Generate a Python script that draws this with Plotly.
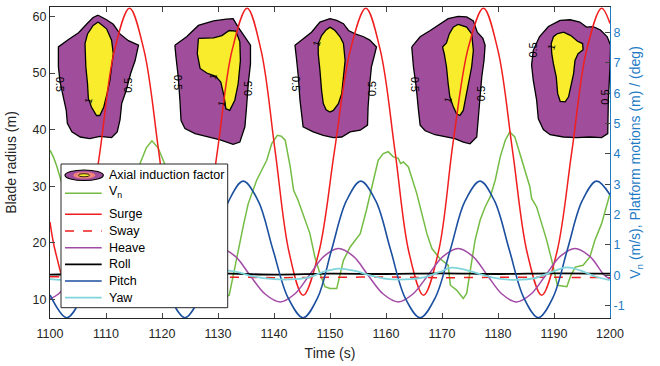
import plotly.graph_objects as go

# ---------------- data ----------------
# Axial induction factor contour outlines (time s, blade radius m)
outer_t = [
    [1108.6, 1110.1, 1111.3, 1112.5, 1114.0, 1115.8, 1115.2, 1114.4, 1113.6, 1112.8, 1112.5, 1112.0, 1111.0, 1108.9, 1107.1, 1105.4, 1103.9, 1103.1, 1102.9, 1102.4, 1101.8, 1101.5, 1101.5, 1103.3, 1105.1, 1106.6, 1107.7],
    [1122.3, 1124.4, 1126.5, 1129.2, 1131.5, 1132.7, 1133.6, 1134.8, 1135.8, 1135.8, 1135.4, 1135.1, 1134.8, 1133.9, 1132.7, 1130.4, 1128.0, 1125.9, 1124.1, 1123.4, 1123.2, 1122.9, 1122.5],
    [1150.0, 1148.2, 1146.7, 1145.2, 1143.75, 1144.05, 1144.35, 1144.64, 1144.9, 1145.2, 1147.0, 1148.8, 1150.6, 1152.1, 1153.6, 1155.4, 1156.7, 1156.8, 1157.1, 1157.4, 1158.0, 1158.3, 1157.1, 1156.0, 1154.5, 1153.3, 1152.4, 1151.2],
    [1164.6, 1166.1, 1167.9, 1169.6, 1171.1, 1172.9, 1174.4, 1175.6, 1176.3, 1177.3, 1177.7, 1177.5, 1177.1, 1176.8, 1176.5, 1176.2, 1175.0, 1173.8, 1172.3, 1170.5, 1168.75, 1167.0, 1166.1, 1165.8, 1165.4, 1164.9],
    [1191.1, 1192.9, 1194.6, 1195.8, 1197.0, 1198.3, 1199.5, 1200.1, 1200.0, 1199.7, 1199.6, 1198.5, 1196.4, 1194.0, 1191.7, 1189.3, 1188.1, 1187.2, 1186.9, 1186.3, 1186.0, 1186.3, 1187.4, 1189.0],
]
outer_r = [
    [60.2, 59.4, 58.6, 56.9, 55.7, 54.9, 52.2, 49.9, 46.9, 44.6, 41.7, 39.6, 38.6, 38.8, 38.4, 38.7, 39.6, 41.1, 43.4, 45.8, 48.4, 51.1, 54.6, 55.9, 57.1, 58.7, 59.8],
    [54.9, 56.4, 58.4, 59.2, 59.5, 59.6, 58.1, 56.4, 54.9, 51.6, 48.1, 44.0, 40.5, 37.8, 37.4, 38.2, 38.8, 39.3, 40.2, 41.6, 45.2, 49.3, 52.8],
    [59.6, 59.0, 57.2, 56.1, 54.9, 52.2, 49.3, 45.2, 42.8, 40.5, 39.6, 39.0, 38.6, 38.7, 39.6, 39.9, 40.8, 44.0, 48.1, 51.1, 53.4, 54.6, 55.8, 56.4, 56.9, 57.5, 58.7, 59.3],
    [54.6, 56.4, 57.5, 58.7, 59.6, 60.0, 59.9, 59.2, 57.2, 56.1, 54.9, 52.2, 49.3, 45.8, 42.2, 38.7, 37.5, 37.8, 38.4, 38.7, 39.1, 39.8, 40.8, 43.4, 47.5, 51.1],
    [59.3, 59.4, 59.0, 58.1, 58.2, 57.6, 56.4, 54.9, 51.1, 45.2, 39.3, 38.6, 38.7, 38.6, 38.7, 39.1, 40.0, 41.9, 45.2, 48.7, 51.4, 54.0, 56.4, 58.2],
]
inner_t = [
    [1108.6, 1110.1, 1111.0, 1111.3, 1111.0, 1110.7, 1110.2, 1109.6, 1108.9, 1108.3, 1107.4, 1106.85, 1106.7, 1106.4, 1106.25, 1106.7, 1107.7],
    [1126.5, 1129.2, 1130.7, 1132.0, 1133.2, 1133.9, 1134.0, 1133.6, 1133.0, 1132.1, 1131.4, 1131.1, 1130.5, 1129.6, 1128.0, 1126.8, 1126.3],
    [1150.0, 1150.9, 1151.8, 1152.4, 1152.7, 1152.4, 1152.1, 1151.5, 1150.6, 1150.0, 1149.3, 1148.8, 1148.5, 1148.2, 1147.9, 1147.9, 1148.5, 1149.3],
    [1172.9, 1174.4, 1175.3, 1175.6, 1175.3, 1174.7, 1174.1, 1173.8, 1173.2, 1172.6, 1172.0, 1171.4, 1171.1, 1170.8, 1170.4, 1170.1, 1170.8, 1171.3, 1172.0],
    [1190.5, 1191.7, 1193.0, 1194.2, 1195.1, 1195.2, 1194.3, 1193.75, 1193.5, 1193.0, 1192.6, 1192.0, 1191.1, 1190.65, 1190.4, 1189.9, 1189.6, 1189.5, 1189.9],
]
inner_r = [
    [59.0, 57.8, 55.8, 53.4, 51.1, 48.7, 46.4, 44.0, 42.5, 42.5, 44.0, 45.5, 48.1, 51.1, 55.2, 56.9, 58.4],
    [56.1, 56.2, 56.6, 57.5, 57.4, 55.5, 52.2, 48.1, 45.2, 43.4, 43.7, 45.8, 48.4, 49.4, 50.0, 50.8, 53.4],
    [58.1, 57.5, 56.4, 55.2, 52.2, 48.7, 46.4, 44.6, 43.4, 43.1, 43.5, 44.6, 46.9, 50.5, 53.4, 55.2, 56.6, 57.6],
    [58.6, 58.1, 56.9, 54.0, 51.1, 48.1, 45.2, 43.4, 42.5, 42.8, 44.1, 45.8, 48.1, 51.1, 53.4, 54.6, 55.3, 56.9, 58.1],
    [56.9, 57.2, 56.6, 55.6, 55.2, 54.1, 53.4, 52.2, 49.9, 47.5, 45.8, 44.9, 45.0, 46.4, 49.3, 51.6, 53.4, 55.2, 56.4],
]
# contour labels: (time, radius, text angle)
label_05_t = [1101.8, 1114.0, 1122.9, 1135.4, 1144.05, 1157.4, 1165.2, 1177.1, 1186.3, 1199.1]
label_05_r = [48.1, 47.8, 48.4, 47.2, 48.1, 47.2, 48.1, 46.4, 54.0, 45.8]
label_05_a = [90, -90, 90, -90, 90, -90, 90, -90, -90, -90]
label_1_t = [1106.8, 1129.2, 1130.6, 1147.6, 1171.1, 1189.6]
label_1_r = [45.2, 49.3, 44.7, 55.2, 45.3, 54.6]

# V_n (m/s)
vn_t = [1100.0, 1100.6, 1101.2, 1102.0, 1103.0, 1104.0, 1105.0, 1106.5, 1108.0, 1109.0, 1109.8, 1110.8, 1111.6, 1112.4, 1113.2, 1114.2, 1115.2, 1116.1, 1117.2, 1118.2, 1119.3, 1120.5, 1121.5, 1122.5, 1123.5, 1124.5, 1125.5, 1126.5, 1128.0, 1129.5, 1130.5, 1131.4, 1132.0, 1133.0, 1133.9, 1134.6, 1135.4, 1136.2, 1136.9, 1137.8, 1138.7, 1139.6, 1140.6, 1141.3, 1142.0, 1142.9, 1143.5, 1144.3, 1145.5, 1146.4, 1147.3, 1148.2, 1149.1, 1150.0, 1151.2, 1152.4, 1153.6, 1154.5, 1155.4, 1156.5, 1157.7, 1158.6, 1159.5, 1160.4, 1161.3, 1162.2, 1162.6, 1163.1, 1164.0, 1164.6, 1165.5, 1166.4, 1167.3, 1168.2, 1169.6, 1171.1, 1171.5, 1172.6, 1173.8, 1174.4, 1175.0, 1175.9, 1176.8, 1177.7, 1178.6, 1179.5, 1180.4, 1181.3, 1182.1, 1183.0, 1183.9, 1184.8, 1185.7, 1186.0, 1186.9, 1187.8, 1188.7, 1189.6, 1190.4, 1190.6, 1192.3, 1192.9, 1193.8, 1195.2, 1196.4, 1197.3, 1198.5, 1200.0]
vn_v = [4.12, 3.9, 3.6, 3.1, 2.2, 1.3, 0.7, 0.4, 0.3, 0.2, -0.4, -0.7, -0.5, 0.4, 1.4, 2.4, 3.1, 3.69, 4.2, 4.43, 4.2, 3.66, 3.0, 2.4, 1.8, 1.2, 0.7, 0.45, 0.35, 0.2, -0.3, -0.72, -0.66, 0.27, 1.15, 1.7, 2.36, 2.8, 3.13, 3.46, 3.79, 4.34, 4.61, 4.58, 4.45, 3.57, 2.8, 2.47, 1.81, 1.38, 0.6, 0.06, -0.38, -0.44, -0.44, 0.49, 0.93, 1.15, 1.37, 2.14, 3.13, 3.79, 4.01, 4.07, 3.9, 3.85, 3.68, 3.73, 3.57, 3.24, 2.69, 2.03, 1.37, 0.88, 0.55, 0.33, -0.33, -0.49, -0.77, -0.6, 0.16, 1.15, 1.81, 2.25, 2.58, 3.13, 3.9, 4.45, 4.72, 4.56, 4.01, 3.46, 2.91, 2.53, 2.25, 1.7, 1.15, 0.49, -0.22, -0.33, -0.38, -0.05, 0.27, 0.33, 0.6, 1.15, 1.7, 2.69]

# Surge (m)
surge_t = [1100.0, 1101.0, 1103.6, 1106.2, 1108.9, 1111.5, 1114.2, 1116.8, 1119.4, 1121.9, 1124.5, 1127.2, 1129.9, 1132.5, 1135.2, 1137.7, 1140.2, 1142.7, 1145.2, 1148.0, 1150.8, 1153.6, 1156.4, 1159.0, 1161.6, 1164.1, 1166.7, 1169.4, 1172.0, 1174.7, 1177.4, 1180.0, 1182.6, 1185.2, 1187.8, 1190.5, 1193.2, 1195.8, 1198.5, 1200.0]
surge_v = [1.75, 0.75, -0.66, 0.75, 4.05, 7.4, 8.8, 7.4, 4.1, 0.75, -0.66, 0.75, 4.1, 7.4, 8.8, 7.4, 4.1, 0.75, -0.66, 0.75, 4.1, 7.4, 8.8, 7.4, 4.1, 0.75, -0.66, 0.8, 4.4, 7.5, 8.8, 7.4, 4.1, 0.75, -0.66, 0.75, 4.1, 7.4, 8.8, 8.3]

# Sway (m)
sway_t = [1100, 1110, 1120, 1130, 1140, 1150, 1160, 1170, 1180, 1190, 1200]
sway_v = [-0.05, -0.06, -0.07, -0.06, -0.08, -0.07, -0.06, -0.08, -0.07, -0.07, -0.08]

# Heave (m)
heave_t = [1100.0, 1101.5, 1104.2, 1106.8, 1109.3, 1112.0, 1114.6, 1117.3, 1120.0, 1122.6, 1125.2, 1127.8, 1130.4, 1133.1, 1135.7, 1138.4, 1141.1, 1143.7, 1146.3, 1148.9, 1151.5, 1154.2, 1156.8, 1159.5, 1162.2, 1164.8, 1167.5, 1170.2, 1172.9, 1175.5, 1178.1, 1180.7, 1183.3, 1185.9, 1188.5, 1191.1, 1193.75, 1196.4, 1199.0, 1200.0]
heave_v = [-0.78, -0.62, 0.0, 0.62, 0.88, 0.62, 0.0, -0.62, -0.88, -0.62, 0.0, 0.62, 0.88, 0.62, 0.0, -0.62, -0.88, -0.62, 0.0, 0.62, 0.88, 0.62, 0.0, -0.62, -0.88, -0.62, 0.0, 0.62, 0.88, 0.62, 0.0, -0.62, -0.88, -0.62, 0.0, 0.62, 0.88, 0.62, 0.0, -0.12]

# Roll (deg)
roll_t = [1100, 1110, 1120, 1130, 1140, 1150, 1160, 1170, 1180, 1190, 1200]
roll_v = [0.02, 0.04, 0.03, 0.06, 0.02, 0.05, 0.04, 0.06, 0.04, 0.06, 0.05]

# Pitch (deg)
pitch_t = [1100.0, 1103.0, 1105.6, 1108.3, 1111.0, 1113.7, 1116.3, 1118.9, 1121.5, 1124.1, 1126.7, 1129.3, 1131.9, 1134.5, 1137.2, 1139.8, 1142.5, 1145.2, 1147.8, 1150.3, 1152.9, 1155.5, 1158.2, 1160.8, 1163.4, 1166.1, 1168.8, 1171.5, 1174.1, 1176.8, 1179.4, 1182.0, 1184.6, 1187.2, 1189.8, 1192.4, 1195.0, 1197.6, 1200.0]
pitch_v = [-0.65, -1.4, -0.75, 0.85, 2.44, 3.1, 2.44, 0.85, -0.74, -1.4, -0.74, 0.85, 2.44, 3.1, 2.44, 0.85, -0.74, -1.4, -0.74, 0.85, 2.44, 3.1, 2.44, 0.85, -0.74, -1.4, -0.74, 0.85, 2.44, 3.1, 2.44, 0.85, -0.74, -1.4, -0.74, 0.85, 2.44, 3.1, 2.65]

# Yaw (deg)
yaw_t = [1100, 1102, 1105, 1108, 1110.5, 1113, 1116, 1119, 1122, 1125, 1128, 1131, 1133.5, 1136.5, 1140, 1143, 1146, 1149, 1151.5, 1154.5, 1157.5, 1160.5, 1163.5, 1166.5, 1169.5, 1171.7, 1174.5, 1177.5, 1180.5, 1183.5, 1186.5, 1189.5, 1192.3, 1194.8, 1197.5, 1200]
yaw_v = [-0.13, -0.15, -0.1, 0.08, 0.18, 0.1, -0.06, -0.13, -0.14, -0.1, 0.05, 0.17, 0.1, -0.05, -0.13, -0.14, -0.08, 0.12, 0.22, 0.14, -0.02, -0.13, -0.14, -0.08, 0.1, 0.25, 0.16, 0.0, -0.12, -0.15, -0.1, 0.1, 0.26, 0.15, -0.05, -0.16]

x_ticks = [1100, 1110, 1120, 1130, 1140, 1150, 1160, 1170, 1180, 1190, 1200]
y_left_ticks = [10, 20, 30, 40, 50, 60]
y_right_ticks = [-1, 0, 1, 2, 3, 4, 5, 6, 7, 8]
y_right_labels = ["-1", "0", "1", "2", "3", "4", "5", "6", "7", "8"]

# ---------------- styles ----------------
FONT = "Liberation Sans, Arial, sans-serif"
AX = "#262626"
BLUE_AX = "#1f7cc4"
PURPLE = "#a04e9c"
YELLOW = "#f8ec2c"
SALMON = "#f0857a"

W, H = 660, 366
ML, MR, MT, MB = 50, 50, 7, 48
PW, PH = W - ML - MR, H - MT - MB


def px(xp):
    return (xp - ML) / PW


def py(yp):
    return (H - MB - yp) / PH


def join(polys):
    out = []
    for p in polys:
        out += list(p) + [p[0], None]
    return out


fig = go.Figure()
fig.add_trace(go.Scatter(x=join(outer_t), y=join(outer_r), mode="lines", fill="toself",
                         fillcolor=PURPLE, line=dict(color="black", width=1.3),
                         name="Axial induction factor", yaxis="y"))
fig.add_trace(go.Scatter(x=join(inner_t), y=join(inner_r), mode="lines", fill="toself",
                         fillcolor=YELLOW, line=dict(color="black", width=1.3),
                         name="Axial induction factor (1)", yaxis="y"))

series = [
    ("V<sub>n</sub>", vn_t, vn_v, "#74bc44", "solid", "linear", 1.5),
    ("Surge", surge_t, surge_v, "#f01e1e", "solid", "spline", 1.5),
    ("Sway", sway_t, sway_v, "#f01e1e", "dash", "spline", 1.5),
    ("Heave", heave_t, heave_v, "#a24ba6", "solid", "spline", 1.5),
    ("Roll", roll_t, roll_v, "#000000", "solid", "spline", 1.8),
    ("Pitch", pitch_t, pitch_v, "#1b4f9f", "solid", "spline", 1.6),
    ("Yaw", yaw_t, yaw_v, "#80d4dc", "solid", "spline", 1.8),
]
for name, t, v, c, dash, shape, w in series:
    fig.add_trace(go.Scatter(x=t, y=v, mode="lines", name=name, yaxis="y2",
                             line=dict(color=c, width=w, dash=dash, shape=shape)))

annotations = []
for t, r, a in zip(label_05_t, label_05_r, label_05_a):
    annotations.append(dict(x=t, y=r, xref="x", yref="y", text="0.5", showarrow=False,
                            textangle=a, font=dict(family=FONT, size=11, color="black")))
for t, r in zip(label_1_t, label_1_r):
    annotations.append(dict(x=t, y=r, xref="x", yref="y", text="1", showarrow=False,
                            textangle=-75, font=dict(family=FONT, size=10, color="black")))

# ---------- legend (drawn as a box with line samples and text) ----------
shapes = []
shapes.append(dict(type="rect", xref="paper", yref="paper", x0=px(61), x1=px(227.7),
                   y0=py(307.7), y1=py(164), fillcolor="white",
                   line=dict(color=AX, width=1), layer="above"))
# contour icon: concentric ellipses
shapes.append(dict(type="circle", xref="paper", yref="paper", x0=px(65), x1=px(103.3),
                   y0=py(180.5), y1=py(170), fillcolor=PURPLE,
                   line=dict(color="black", width=1.2), layer="above"))
shapes.append(dict(type="circle", xref="paper", yref="paper", x0=px(73.5), x1=px(95),
                   y0=py(178.3), y1=py(172.2), fillcolor=SALMON,
                   line=dict(color=SALMON, width=0.5), layer="above"))
shapes.append(dict(type="circle", xref="paper", yref="paper", x0=px(78.5), x1=px(89.5),
                   y0=py(176.8), y1=py(173.7), fillcolor=YELLOW,
                   line=dict(color="black", width=0.8), layer="above"))
legend_rows_y = [193.3, 214.3, 231.0, 247.7, 264.3, 281.0, 297.7]
for (name, t, v, c, dash, shape, w), yy in zip(series, legend_rows_y):
    shapes.append(dict(type="line", xref="paper", yref="paper", x0=px(65), x1=px(101.7),
                       y0=py(yy), y1=py(yy), line=dict(color=c, width=w, dash=dash),
                       layer="above"))
legend_text_y = [175.0, 192.5, 214.3, 231.0, 247.7, 264.3, 281.0, 297.7]
legend_names = ["Axial induction factor"] + [s[0] for s in series]
for name, yy in zip(legend_names, legend_text_y):
    annotations.append(dict(x=px(106.5), y=py(yy), xref="paper", yref="paper", text=name,
                            showarrow=False, xanchor="left", yanchor="middle",
                            font=dict(family=FONT, size=12.5, color="black")))

fig.update_layout(
    width=W, height=H,
    margin=dict(l=ML, r=MR, t=MT, b=MB),
    paper_bgcolor="white", plot_bgcolor="white",
    font=dict(family=FONT, size=12.5, color=AX),
    showlegend=False,
    xaxis=dict(range=[1100, 1200], tickvals=x_ticks, ticks="inside", ticklen=5,
               showline=True, linecolor=AX, linewidth=1, mirror="ticks", showgrid=False,
               zeroline=False, ticklabelstandoff=4,
               title=dict(text="Time (s)", font=dict(size=14), standoff=8),
               tickfont=dict(size=12.5, color=AX)),
    yaxis=dict(range=[6.75, 61.65], tickvals=y_left_ticks, ticks="inside", ticklen=5,
               showline=True, linecolor=AX, linewidth=1, showgrid=False, zeroline=False,
               title=dict(text="Blade radius (m)", font=dict(size=14), standoff=12),
               tickfont=dict(size=12.5, color=AX)),
    yaxis2=dict(range=[-1.41, 8.84], overlaying="y", side="right", tickvals=y_right_ticks,
                ticktext=y_right_labels, ticks="inside", ticklen=5, showline=True,
                linecolor=BLUE_AX, linewidth=1, showgrid=False, zeroline=False,
                tickfont=dict(size=12.5, color=BLUE_AX),
                title=dict(text="V<sub>n</sub> (m/s), Platform motions (m) / (deg)",
                           font=dict(size=14, color=BLUE_AX), standoff=6)),
    annotations=annotations,
    shapes=shapes,
)

fig.write_html("out.html")
